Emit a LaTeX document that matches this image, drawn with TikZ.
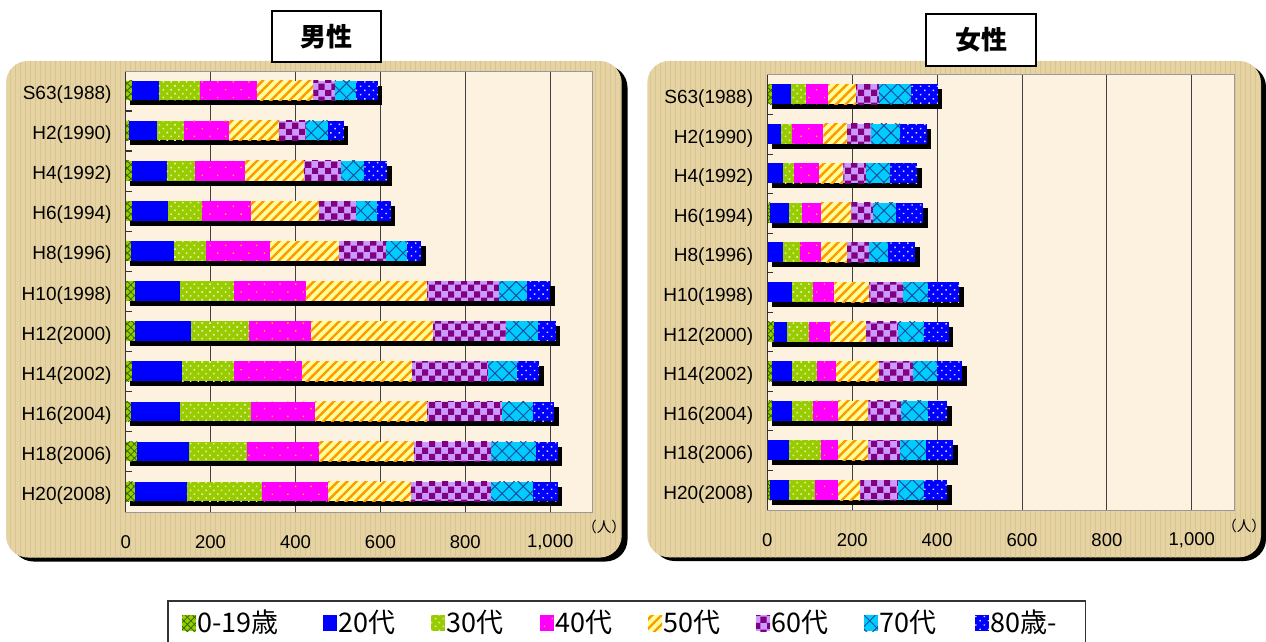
\documentclass[tikz,border=0pt]{standalone}
\usepackage{fontspec}
\setmainfont{Liberation Sans}
\newfontfamily\jpfont{Noto Sans CJK JP}
\usetikzlibrary{patterns,patterns.meta}

\definecolor{ygreen}{HTML}{99CC00}
\definecolor{dgreen}{HTML}{2F6A00}
\definecolor{ltgreen}{HTML}{E4F2B0}
\definecolor{pblue}{HTML}{0000FF}
\definecolor{pmag}{HTML}{FF00FF}
\definecolor{dotorange}{HTML}{FFB400}
\definecolor{pyel}{HTML}{FFFF99}
\definecolor{porange}{HTML}{FF9900}
\definecolor{ppurple}{HTML}{800080}
\definecolor{plilac}{HTML}{CC99FF}
\definecolor{pcyan}{HTML}{00CCFF}
\definecolor{pnavy}{HTML}{1A4C9C}
\definecolor{paper}{HTML}{E6D3A3}
\definecolor{paperline}{HTML}{C9AE72}
\definecolor{cream}{HTML}{FCF2DF}

% checker cells for the 60s
\pgfdeclarepatternformonly{bigchecker}{\pgfpointorigin}{\pgfqpoint{13pt}{13pt}}{\pgfqpoint{13pt}{13pt}}{%
  \pgfpathrectangle{\pgfpointorigin}{\pgfqpoint{6.5pt}{6.5pt}}%
  \pgfpathrectangle{\pgfqpoint{6.5pt}{6.5pt}}{\pgfqpoint{6.5pt}{6.5pt}}%
  \pgfusepath{fill}}

\tikzset{
  seg1/.style={fill=ygreen,
    postaction={pattern={Lines[angle=45,distance=5pt,line width=.8pt]}, pattern color=dgreen},
    postaction={pattern={Lines[angle=-45,distance=5pt,line width=.8pt]}, pattern color=dgreen}},
  seg2/.style={fill=pblue},
  seg3/.style={fill=ygreen, postaction={pattern={Dots[radius=1.1pt,distance=5.5pt,angle=45]}, pattern color=ltgreen}},
  seg4/.style={fill=pmag, postaction={pattern={Dots[radius=1pt,distance=11pt,angle=45]}, pattern color=dotorange}},
  seg5/.style={fill=pyel, postaction={pattern={Lines[angle=45,distance=6.6pt,line width=2.4pt]}, pattern color=porange}},
  seg6/.style={fill=plilac, postaction={pattern=bigchecker, pattern color=ppurple}},
  seg7/.style={fill=pcyan,
    postaction={pattern={Lines[angle=45,distance=10pt,line width=1pt]}, pattern color=pnavy},
    postaction={pattern={Lines[angle=-45,distance=10pt,line width=1pt]}, pattern color=pnavy}},
  seg8/.style={fill=pblue, postaction={pattern={Dots[radius=1pt,distance=6pt,angle=45]}, pattern color=white!85!pblue}},
  barshadow/.style={fill=black, xshift=4.5pt, yshift=-5pt},
  panel/.style={fill=paper, rounded corners=22pt,
    postaction={pattern={Lines[angle=90,distance=5pt,line width=.6pt]}, pattern color=paperline!40!paper}},
  panelshadow/.style={fill=black, rounded corners=22pt},
  plotarea/.style={fill=cream, draw=gray!80, line width=1pt},
  gridline/.style={draw=black!75, line width=.9pt},
  axisline/.style={draw=black!80, line width=1.2pt},
  catlab/.style={anchor=base east, inner sep=0pt, font=\fontsize{19}{19}\selectfont},
  ticklab/.style={inner sep=0pt, font=\fontsize{18.5}{19}\selectfont},
  unitlab/.style={inner sep=0pt, font=\jpfont\fontsize{14.5}{15}\selectfont},
  titlebox/.style={draw=black, line width=2pt, fill=white, minimum width=109.6pt,
    minimum height=51.3pt, font=\jpfont\bfseries\fontsize{26}{26}\selectfont},
  legtext/.style={anchor=west, inner sep=0pt, font=\jpfont\fontsize{27}{27}\selectfont},
}

\begin{document}
\begin{tikzpicture}[x=1pt, y=-1pt]
  \useasboundingbox (0,0) rectangle (1266,642);

  % Panels
  \path[panelshadow] (11.5,65.5) rectangle (627.5,561.5);
  \path[panel] (6,61) rectangle (621.7,557.5);
  \path[panelshadow] (652.5,65) rectangle (1266,561);
  \path[panel] (647.3,61) rectangle (1261,557.3);

  % Plot areas
  \path[plotarea] (125.7,71.7) rectangle (592.7,512);
  \path[plotarea] (767.3,75) rectangle (1234.3,510);

  % Titles
  \node[titlebox] (mtitle) at (326.5,36.7) {男性};
  \node[titlebox] (ftitle) at (981,40) {女性};

  % Men
  \begin{scope}[xshift=125.7pt, x=0.4245pt]
    \foreach \g in {200,400,600,800,1000}
      \draw[gridline] (\g,71.7) -- (\g,512);
    \foreach \lab/\tot/\vals [count=\i] in {
        S63(1988)/594/{16,78,175,309,442,493,543,594},
        H2(1990)/514/{8,74,137,243,361,424,477,514},
        H4(1992)/616/{16,97,164,281,420,507,562,616},
        H6(1994)/624/{16,100,179,295,455,543,591,624},
        H8(1996)/696/{12,114,188,340,503,613,663,696},
        H10(1998)/1000/{22,128,255,424,710,880,946,1000},
        H12(2000)/1013/{22,154,291,437,724,895,972,1013},
        H14(2002)/974/{16,133,255,415,675,854,921,974},
        H16(2004)/1009/{12,128,295,446,710,887,960,1009},
        H18(2006)/1018/{27,149,286,455,679,861,967,1018},
        H20(2008)/1018/{22,144,321,477,672,861,960,1018}}{
      \pgfmathsetmacro\yc{90.6+40.09*(\i-1)}
      \node[catlab, xshift=-14pt] (mlab\i) at (0,\yc+9) {\lab};
      \fill[barshadow] (0,\yc-9.8) rectangle (\tot,\yc+9.8);
      \foreach \cur [count=\k, remember=\cur as \prev (initially 0)] in \vals
        \path[seg\k] (\prev,\yc-9.8) rectangle (\cur,\yc+9.8);
    }
    \draw[axisline] (0,71.7) -- (0,512);
    \foreach \t in {1,...,10}
      \draw[axisline] (0,70.8+40.1*\t) -- ++(6pt,0);
    \foreach \g/\txt in {0/0,200/200,400/400,600/600,800/800,1000/{1,000}}
      \node[ticklab] (mtick\g) at (\g,542.5) {\txt};
  \end{scope}
  \node[unitlab] (munit) at (604,527) {（人）};

  % Women
  \begin{scope}[xshift=767.3pt, x=0.4245pt]
    \foreach \g in {200,400,600,800,1000}
      \draw[gridline] (\g,75) -- (\g,510);
    \foreach \lab/\tot/\vals [count=\i] in {
        S63(1988)/402/{12,56,92,143,209,263,339,402},
        H2(1990)/376/{2,33,59,132,188,245,313,376},
        H4(1992)/353/{2,38,63,122,179,233,289,353},
        H6(1994)/367/{7,52,82,127,198,249,303,367},
        H8(1996)/348/{2,38,78,127,188,240,285,348},
        H10(1998)/452/{2,59,108,158,240,320,379,452},
        H12(2000)/428/{16,47,99,148,233,308,369,428},
        H14(2002)/459/{12,59,118,162,263,343,400,459},
        H16(2004)/424/{12,59,108,167,238,315,379,424},
        H18(2006)/438/{2,52,127,167,238,313,374,438},
        H20(2008)/424/{7,52,113,167,219,308,369,424}}{
      \pgfmathsetmacro\yc{94+39.6*(\i-1)}
      \node[catlab, xshift=-14pt] (flab\i) at (0,\yc+9.5) {\lab};
      \fill[barshadow] (0,\yc-10) rectangle (\tot,\yc+10);
      \foreach \cur [count=\k, remember=\cur as \prev (initially 0)] in \vals
        \path[seg\k] (\prev,\yc-10) rectangle (\cur,\yc+10);
    }
    \draw[axisline] (0,75) -- (0,510);
    \foreach \t in {1,...,10}
      \draw[axisline] (0,75.2+39.5*\t) -- ++(6pt,0);
    \foreach \g/\txt in {0/0,200/200,400/400,600/600,800/800,1000/{1,000}}
      \node[ticklab] (ftick\g) at (\g,540) {\txt};
  \end{scope}
  \node[unitlab] (funit) at (1244,526) {（人）};

  % Legend
  \draw[draw=black!80, line width=1.5pt, fill=white] (168,601) rectangle (1085.7,660);
  \foreach \mx/\txt [count=\k] in {182/0-19歳, 323/20代, 431/30代, 540/40代,
                                  648/50代, 756/60代, 864/70代, 975/80歳-}{
    \path[seg\k] (\mx,615) rectangle ++(14,16);
    \node[legtext] (leg\k) at (\mx+15,622) {\txt};
  }
\end{tikzpicture}
\end{document}
